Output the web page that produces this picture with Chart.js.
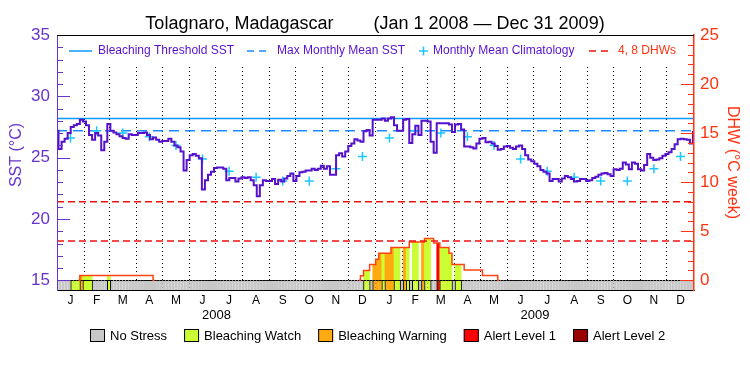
<!DOCTYPE html>
<html lang="en">
<head>
<meta charset="UTF-8">
<title>Tolagnaro, Madagascar - SST and DHW 2008-2009</title>
<script src="https://cdn.jsdelivr.net/npm/chart.js"></script>
<style>
  html, body { margin: 0; padding: 0; background: #fff; }
  #wrap { width: 750px; height: 375px; }
</style>
</head>
<body>
<div id="wrap"><canvas id="crwChart" width="750" height="375"></canvas></div>
<script>
// ---- data -------------------------------------------------------------
// calendar, Jan 2008 .. Dec 2009
const monthLetters = ['J', 'F', 'M', 'A', 'M', 'J', 'J', 'A', 'S', 'O', 'N', 'D'];
const monthLengths = [31, 29, 31, 30, 31, 30, 31, 31, 30, 31, 30, 31,
                      31, 28, 31, 30, 31, 30, 31, 31, 30, 31, 30, 31];
const yearLabels = ['2008', '2009'];

// twice-weekly composites starting 1 Jan 2008
const SAMPLE_STEP = 3.5; // days between samples

// SST (deg C)
const sst = [
  27.2, 25.7, 26.3, 26.55, 27.0, 27.5, 27.65, 27.75, 28.1, 27.95,
  27.65, 26.85, 26.45, 27.0, 26.8, 25.6, 26.3, 27.75, 27.2, 27.05,
  26.9, 26.75, 26.6, 26.55, 26.9, 26.85, 26.85, 27.0, 27.0, 27.05,
  26.85, 26.5, 26.65, 26.45, 26.3, 26.35, 26.35, 26.55, 26.3, 26.0,
  25.85, 25.5, 23.95, 24.8, 25.2, 25.3, 25.15, 24.95, 22.4, 23.15,
  23.6, 23.85, 24.15,
  24.2, 24.2, 24.1, 23.15, 23.35, 23.35, 23.05, 23.3, 23.4, 23.35,
  23.4, 23.15, 22.75, 21.85, 22.75, 23.15, 23.1, 23.1, 23.25, 22.85,
  23.2, 23.05, 23.3, 23.5, 23.7, 23.1, 23.5, 23.8, 23.85, 23.95,
  23.95, 24.1, 24.0, 24.1, 24.35, 24.1, 24.3, 23.6, 23.6, 25.2,
  25.35, 25.1, 25.5, 25.95, 26.15, 26.5, 26.4, 26.3, 27.15, 27.25,
  26.8, 28.1,
  28.1, 28.1, 28.2, 28.0, 28.2, 28.3, 27.65, 27.2, 27.2, 28.1,
  28.15, 26.2, 26.9, 27.6, 26.85, 28.0, 28.0, 27.95, 26.3, 25.4,
  27.8, 27.8, 27.8, 27.8, 27.7, 27.1, 27.7, 27.75, 27.3, 25.9,
  25.9, 25.85, 25.75, 26.15, 26.55, 26.6, 26.25, 26.3, 26.15, 25.95,
  25.65, 25.7, 25.9, 25.95, 25.8, 25.7, 25.9, 26.0, 25.7, 25.2,
  24.85, 24.7, 24.5,
  24.3, 24.0, 23.85, 23.7, 23.1, 23.25, 23.25, 23.05, 23.3, 23.5,
  23.4, 23.25, 23.05, 23.1, 23.25, 23.25, 23.1, 23.15, 23.35, 23.45,
  23.6, 23.7, 23.75, 23.65, 23.5, 24.05, 24.0, 24.1, 24.6, 24.45,
  24.05, 24.6, 24.5, 24.05, 23.95, 24.4, 25.3, 25.0, 24.8, 24.85,
  24.95, 25.15, 25.3, 25.45, 25.7, 26.1, 26.5, 26.55, 26.5, 26.45,
  26.15, 27.1
];

// Degree Heating Weeks (deg C week)
const dhw = [
  0, 0, 0, 0, 0, 0, 0, 0, 0.5, 0.5, 0.5, 0.5,
  0.5, 0.5, 0.5, 0.5, 0.5, 0.5, 0.5, 0.5, 0.5, 0.5, 0.5, 0.5,
  0.5, 0.5, 0.5, 0.5, 0.5, 0.5, 0.5, 0.5, 0, 0, 0, 0,
  0, 0, 0, 0, 0, 0, 0, 0, 0, 0, 0, 0,
  0, 0, 0, 0, 0, 0, 0, 0, 0, 0, 0, 0,
  0, 0, 0, 0, 0, 0, 0, 0, 0, 0, 0, 0,
  0, 0, 0, 0, 0, 0, 0, 0, 0, 0, 0, 0,
  0, 0, 0, 0, 0, 0, 0, 0, 0, 0, 0, 0,
  0, 0, 0, 0, 0.45, 1.0, 1.0, 1.6, 1.6, 2.15, 2.75, 2.75,
  2.75, 2.75, 3.35, 3.35, 3.35, 3.35, 3.35, 3.35, 3.9, 3.9, 3.9, 3.9,
  3.9, 4.25, 4.25, 4.25, 3.8, 3.8, 3.35, 3.35, 3.35, 2.75, 1.6, 1.6,
  1.6, 1.6, 1.05, 1.05, 1.05, 1.05, 1.05, 1.05, 0.5, 0.5, 0.5, 0.5,
  0.5, 0, 0, 0, 0, 0, 0, 0, 0, 0, 0, 0,
  0, 0, 0, 0, 0, 0, 0, 0, 0, 0, 0, 0,
  0, 0, 0, 0, 0, 0, 0, 0, 0, 0, 0, 0,
  0, 0, 0, 0, 0, 0, 0, 0, 0, 0, 0, 0,
  0, 0, 0, 0, 0, 0, 0, 0, 0, 0, 0, 0,
  0, 0, 0, 0, 0, 0
];

// stress level: 0 none, 1 watch, 2 warning, 3 alert 1, 4 alert 2
const stress = [
  0, 0, 0, 0, 0, 1, 1, 1, 2, 1, 1, 1,
  0, 0, 0, 0, 0, 1, 0, 0, 0, 0, 0, 0,
  0, 0, 0, 0, 0, 0, 0, 0, 0, 0, 0, 0,
  0, 0, 0, 0, 0, 0, 0, 0, 0, 0, 0, 0,
  0, 0, 0, 0, 0, 0, 0, 0, 0, 0, 0, 0,
  0, 0, 0, 0, 0, 0, 0, 0, 0, 0, 0, 0,
  0, 0, 0, 0, 0, 0, 0, 0, 0, 0, 0, 0,
  0, 0, 0, 0, 0, 0, 0, 0, 0, 0, 0, 0,
  0, 0, 0, 0, 0, 1, 1, 0, 2, 2, 2, 1,
  2, 2, 2, 1, 1, 0, 2, 1, 0, 1, 1, 0,
  2, 1, 1, 0, 0, 3, 1, 1, 1, 1, 0, 1,
  1, 0, 0, 0, 0, 0, 0, 0, 0, 0, 0, 0,
  0, 0, 0, 0, 0, 0, 0, 0, 0, 0, 0, 0,
  0, 0, 0, 0, 0, 0, 0, 0, 0, 0, 0, 0,
  0, 0, 0, 0, 0, 0, 0, 0, 0, 0, 0, 0,
  0, 0, 0, 0, 0, 0, 0, 0, 0, 0, 0, 0,
  0, 0, 0, 0, 0, 0, 0, 0, 0, 0, 0, 0,
  0, 0, 0, 0, 0, 0
];

// monthly mean climatology, Jan..Dec
const climatology = [26.6, 27.2, 27.0, 26.7, 26.0, 24.9, 23.9, 23.4, 23.1, 23.1, 24.1, 25.1];

const BLEACHING_THRESHOLD = 28.2;
const MAX_MONTHLY_MEAN = 27.2;
const dhwLevels = [4, 8];

const sstTickLabels = [15, 20, 25, 30, 35];
const dhwTickLabels = [0, 5, 10, 15, 20, 25];

const stressNames = ['No Stress', 'Bleaching Watch', 'Bleaching Warning', 'Alert Level 1', 'Alert Level 2'];

// ---- styles -------------------------------------------------------------
const FONT = "'Liberation Sans', Arial, sans-serif";
const stressColors = ['#c8c8c8', '#ccff33', '#ffaa11', '#ff0000', '#990000'];
const SST_COLOR = '#5511cc';
const SST_AXIS_COLOR = '#6633cc';
const THRESHOLD_COLOR = '#0a98ff';
const MMM_COLOR = '#1a8cff';
const CLIM_COLOR = '#1cc8ff';
const DHW_LINE_COLOR = '#ee1111';
const DHW_COLOR = '#ff4411';
const DHW_AXIS_COLOR = '#ff3311';

// axis lower ends leave room for the stress band below 15 C / 0 DHW
const SST_AXIS_MIN = 14.21;
const DHW_AXIS_MIN = -0.99;

// ---- derived ------------------------------------------------------------
const monthStarts = [];
let dayCount = 0;
monthLengths.forEach(n => { monthStarts.push(dayCount); dayCount += n; });
const totalDays = dayCount;
const monthMids = monthStarts.map((s, i) => s + monthLengths[i] / 2);
const yearMids = yearLabels.map((_, y) => {
  const s = monthStarts[y * 12];
  const e = y * 12 + 12 < monthStarts.length ? monthStarts[y * 12 + 12] : totalDays;
  return (s + e) / 2;
});

const sstPoints = sst.map((v, i) => ({ x: i * SAMPLE_STEP, y: v }));
const dhwPoints = dhw.map((v, i) => ({ x: i * SAMPLE_STEP, y: v }));
const bandPoints = stress.map((_, i) => ({ x: i * SAMPLE_STEP, y: DHW_AXIS_MIN }));
const climPoints = monthMids.map((x, i) => ({ x: x, y: climatology[i % 12] }));
const flatLine = v => [{ x: 0, y: v }, { x: totalDays, y: v }];

// ---- decorations (inward ticks, frame top, legends) ---------------------
function inwardTicks(chart, id, labels, color, fromRight) {
  const s = chart.scales[id], a = chart.chartArea, ctx = chart.ctx;
  ctx.save();
  ctx.strokeStyle = color;
  ctx.lineWidth = 1;
  for (let v = labels[0]; v <= labels[labels.length - 1]; v++) {
    const y = Math.round(s.getPixelForValue(v)) + 0.5;
    const len = labels.includes(v) ? 13 : 6;
    const x0 = fromRight ? a.right : a.left;
    ctx.beginPath();
    ctx.moveTo(x0, y);
    ctx.lineTo(fromRight ? x0 - len : x0 + len, y);
    ctx.stroke();
  }
  ctx.restore();
}

function legendLine(ctx, x0, x1, y, color, dash) {
  ctx.save();
  ctx.strokeStyle = color;
  ctx.lineWidth = 1.5;
  ctx.setLineDash(dash);
  ctx.beginPath();
  ctx.moveTo(x0, y);
  ctx.lineTo(x1, y);
  ctx.stroke();
  ctx.restore();
}

const decorations = {
  id: 'decorations',
  beforeDatasetsDraw(chart) {
    const { ctx, chartArea: a } = chart;
    ctx.save();
    ctx.fillStyle = '#fff';
    ctx.fillRect(a.left + 1, a.top + 1, a.right - a.left - 2, 28);
    ctx.restore();
  },
  afterDraw(chart) {
    const { ctx, chartArea: a } = chart;
    inwardTicks(chart, 'ySST', sstTickLabels, SST_AXIS_COLOR, false);
    inwardTicks(chart, 'yDHW', dhwTickLabels, DHW_AXIS_COLOR, true);

    // top frame
    ctx.save();
    ctx.strokeStyle = '#000';
    ctx.lineWidth = 1;
    ctx.beginPath();
    ctx.moveTo(a.left, a.top + 0.5);
    ctx.lineTo(a.right, a.top + 0.5);
    ctx.stroke();

    // left axis title, sitting a little above the axis centre as in the original
    ctx.save();
    ctx.translate(17, 155);
    ctx.rotate(-Math.PI / 2);
    ctx.font = '16px ' + FONT;
    ctx.fillStyle = SST_AXIS_COLOR;
    ctx.textAlign = 'center';
    ctx.textBaseline = 'middle';
    ctx.fillText('SST (\u00b0C)', 0, 0);
    ctx.restore();

    // legend inside the plot
    const ly = a.top + 16;
    ctx.font = '12px ' + FONT;
    ctx.textBaseline = 'middle';
    ctx.textAlign = 'left';
    legendLine(ctx, 69, 92, ly, THRESHOLD_COLOR, []);
    ctx.fillStyle = SST_COLOR;
    ctx.fillText('Bleaching Threshold SST', 98, ly);
    legendLine(ctx, 247, 271, ly, MMM_COLOR, [7, 5]);
    ctx.fillText('Max Monthly Mean SST', 277, ly);
    ctx.strokeStyle = CLIM_COLOR;
    ctx.lineWidth = 1.5;
    ctx.beginPath();
    ctx.moveTo(419, ly); ctx.lineTo(428, ly);
    ctx.moveTo(423.5, ly - 4.5); ctx.lineTo(423.5, ly + 4.5);
    ctx.stroke();
    ctx.fillText('Monthly Mean Climatology', 433, ly);
    legendLine(ctx, 589, 613, ly, DHW_LINE_COLOR, [7, 5]);
    ctx.fillStyle = DHW_AXIS_COLOR;
    ctx.fillText('4, 8 DHWs', 618, ly);

    // stress legend under the axis
    ctx.font = '13px ' + FONT;
    const box = 15, gapIn = 5, gapOut = 17, by = 335;
    const widths = stressNames.map(t => ctx.measureText(t).width);
    const total = widths.reduce((s, w) => s + box + gapIn + w, 0) + gapOut * (stressNames.length - 1);
    let x = Math.round(377.5 - total / 2);
    stressNames.forEach((t, i) => {
      ctx.fillStyle = stressColors[i];
      ctx.fillRect(x, by - 6, box, 13);
      ctx.strokeStyle = '#000';
      ctx.lineWidth = 1;
      ctx.strokeRect(x + 0.5, by - 5.5, box - 1, 12);
      ctx.fillStyle = '#000';
      ctx.fillText(t, x + box + gapIn, by + 1);
      x += box + gapIn + widths[i] + gapOut;
    });
    ctx.restore();
  }
};

// ---- chart ---------------------------------------------------------------
const ctx = document.getElementById('crwChart').getContext('2d');
new Chart(ctx, {
  type: 'bar',
  data: {
    datasets: [
      {
        type: 'line', label: 'SST', data: sstPoints, yAxisID: 'ySST', xAxisID: 'x',
        borderColor: SST_COLOR, borderWidth: 2, stepped: 'middle', pointRadius: 0, order: 0
      },
      {
        type: 'line', label: 'Monthly Mean Climatology', data: climPoints, yAxisID: 'ySST', xAxisID: 'x',
        showLine: false, pointStyle: 'cross', pointRadius: 4.5, pointBorderWidth: 1.5,
        pointBorderColor: CLIM_COLOR, pointBackgroundColor: CLIM_COLOR, order: 1
      },
      {
        type: 'line', label: 'Bleaching Threshold SST', data: flatLine(BLEACHING_THRESHOLD), yAxisID: 'ySST', xAxisID: 'x',
        borderColor: THRESHOLD_COLOR, borderWidth: 1.5, pointRadius: 0, order: 2
      },
      {
        type: 'line', label: 'Max Monthly Mean SST', data: flatLine(MAX_MONTHLY_MEAN), yAxisID: 'ySST', xAxisID: 'x',
        borderColor: MMM_COLOR, borderWidth: 1.5, borderDash: [10, 6], pointRadius: 0, order: 2
      },
      ...dhwLevels.map(v => ({
        type: 'line', label: v + ' DHW', data: flatLine(v), yAxisID: 'yDHW', xAxisID: 'x',
        borderColor: DHW_LINE_COLOR, borderWidth: 1.5, borderDash: [7, 4], pointRadius: 0, order: 3
      })),
      {
        type: 'line', label: 'DHW', data: dhwPoints, yAxisID: 'yDHW', xAxisID: 'x',
        borderColor: DHW_COLOR, borderWidth: 1.5, stepped: 'middle', pointRadius: 0, order: 4,
        segment: {
          borderColor: c => (c.p0.parsed.y === 0 && c.p1.parsed.y === 0) ? 'transparent' : undefined
        }
      },
      {
        type: 'bar', label: 'Stress band', data: bandPoints, yAxisID: 'yDHW', xAxisID: 'x',
        backgroundColor: c => stressColors[stress[c.dataIndex]],
        borderColor: '#000',
        borderWidth: c => {
          const i = c.dataIndex;
          return { top: 1, right: 0, bottom: 0, left: (i > 0 && stress[i] !== stress[i - 1]) ? 1 : 0 };
        },
        borderSkipped: false, grouped: false, barPercentage: 1, categoryPercentage: 1, order: 5
      },
      {
        type: 'bar', label: 'DHW fill', data: dhwPoints, yAxisID: 'yDHW', xAxisID: 'x',
        backgroundColor: c => stress[c.dataIndex] > 0 ? stressColors[stress[c.dataIndex]] : 'rgba(0,0,0,0)',
        borderWidth: 0, grouped: false, barPercentage: 1, categoryPercentage: 1, order: 6
      }
    ]
  },
  options: {
    responsive: false,
    animation: false,
    events: [],
    layout: { padding: 0 },
    plugins: {
      legend: { display: false },
      tooltip: { enabled: false },
      title: {
        display: true,
        text: 'Tolagnaro, Madagascar        (Jan 1 2008 \u2014 Dec 31 2009)',
        color: '#000',
        font: { family: FONT, size: 18, weight: 'normal' },
        padding: { top: 13, bottom: 0.4 }
      }
    },
    scales: {
      x: {
        type: 'linear', position: 'bottom', min: 0, max: totalDays, weight: 0, offset: false,
        afterFit: s => { s.height = 0; },
        afterBuildTicks: s => { s.ticks = monthStarts.slice(1).map(v => ({ value: v })); },
        ticks: { display: false },
        grid: { display: true, offset: false, color: '#000', lineWidth: 1, drawTicks: false },
        border: { display: true, color: '#000', width: 1, dash: [1, 3], z: 1 }
      },
      xMonth: {
        type: 'linear', position: 'bottom', min: 0, max: totalDays, weight: 1, offset: false,
        afterFit: s => { s.height = 16; },
        afterBuildTicks: s => { s.ticks = monthMids.map(v => ({ value: v })); },
        ticks: {
          autoSkip: false, maxRotation: 0, padding: 3, color: '#000',
          font: { family: FONT, size: 12 },
          callback: (v, i) => monthLetters[i % 12]
        },
        grid: { display: false, drawTicks: false },
        border: { display: false }
      },
      xYear: {
        type: 'linear', position: 'bottom', min: 0, max: totalDays, weight: 2, offset: false,
        afterFit: s => { s.height = 69; },
        afterBuildTicks: s => { s.ticks = yearMids.map(v => ({ value: v })); },
        ticks: {
          autoSkip: false, maxRotation: 0, padding: 2, color: '#000',
          font: { family: FONT, size: 13 },
          callback: (v, i) => yearLabels[i]
        },
        grid: { display: false, drawTicks: false },
        border: { display: false }
      },
      ySST: {
        type: 'linear', position: 'left', min: SST_AXIS_MIN, max: 35,
        afterFit: s => { s.width = 57; },
        afterBuildTicks: s => { s.ticks = sstTickLabels.map(v => ({ value: v })); },
        ticks: { padding: 7, color: SST_AXIS_COLOR, font: { family: FONT, size: 17 } },
        grid: { display: false, drawTicks: false },
        border: { display: true, color: SST_AXIS_COLOR, width: 1, z: 1 }
      },
      yDHW: {
        type: 'linear', position: 'right', min: DHW_AXIS_MIN, max: 25,
        afterFit: s => { s.width = 56; },
        afterBuildTicks: s => { s.ticks = dhwTickLabels.map(v => ({ value: v })); },
        ticks: { padding: 6, color: DHW_AXIS_COLOR, font: { family: FONT, size: 17 } },
        grid: { display: false, drawTicks: false },
        border: { display: true, color: DHW_AXIS_COLOR, width: 1.5, z: 1 },
        title: {
          display: true, text: 'DHW (\u00b0C week)', color: DHW_AXIS_COLOR,
          font: { family: FONT, size: 16 }, padding: { top: 8, bottom: 0 }
        }
      }
    }
  },
  plugins: [decorations]
});
</script>
</body>
</html>
